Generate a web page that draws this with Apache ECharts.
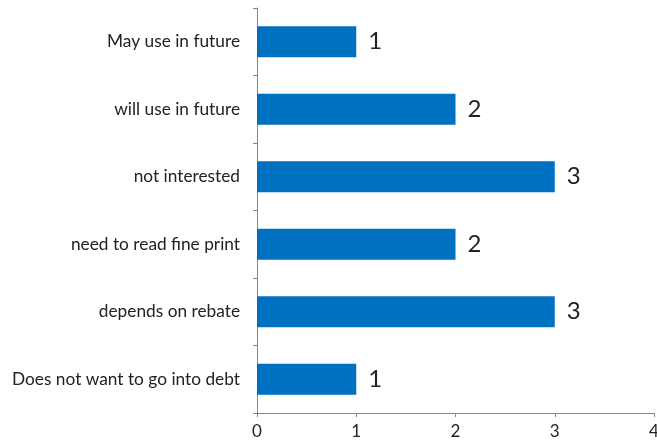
<!DOCTYPE html>
<html><head><meta charset="utf-8">
<script src="https://cdn.jsdelivr.net/npm/echarts@6/dist/echarts.min.js"></script>
<style>html,body{margin:0;padding:0;background:#fff}#c{width:657px;height:445px}</style>
</head><body><div id="c"></div>
<script>
const categories = ["Does not want to go into debt", "depends on rebate", "need to read fine print", "not interested", "will use in future", "May use in future"];
const values = [1, 3, 2, 3, 2, 1];
const xTicks = [0, 1, 2, 3, 4];

const chart = echarts.init(document.getElementById('c'));
chart.setOption({
  animation: false,
  grid: {left: 257, right: 3, top: 8, bottom: 32, containLabel: false, outerBoundsMode: 'none'},
  xAxis: {
    type: 'value', min: xTicks[0], max: xTicks[xTicks.length-1], interval: 1,
    axisLine: {show: true, lineStyle: {color: '#868686', width: 1}},
    axisTick: {show: true, length: 4, lineStyle: {color: '#868686'}},
    splitLine: {show: false},
    axisLabel: {color: '#222', fontSize: 17, fontFamily: 'Lato', margin: 10}
  },
  yAxis: {
    type: 'category', data: categories,
    axisLine: {show: true, lineStyle: {color: '#868686', width: 1}},
    axisTick: {show: true, length: 4, lineStyle: {color: '#868686'}},
    axisLabel: {color: '#222', fontSize: 17.3, fontFamily: 'Lato', margin: 17}
  },
  series: [{
    type: 'bar', data: values, barWidth: '46%',
    itemStyle: {color: '#0070C0'},
    label: {show: true, position: 'right', distance: 12, color: '#222', fontSize: 24, fontFamily: 'Lato'}
  }]
});
</script></body></html>
